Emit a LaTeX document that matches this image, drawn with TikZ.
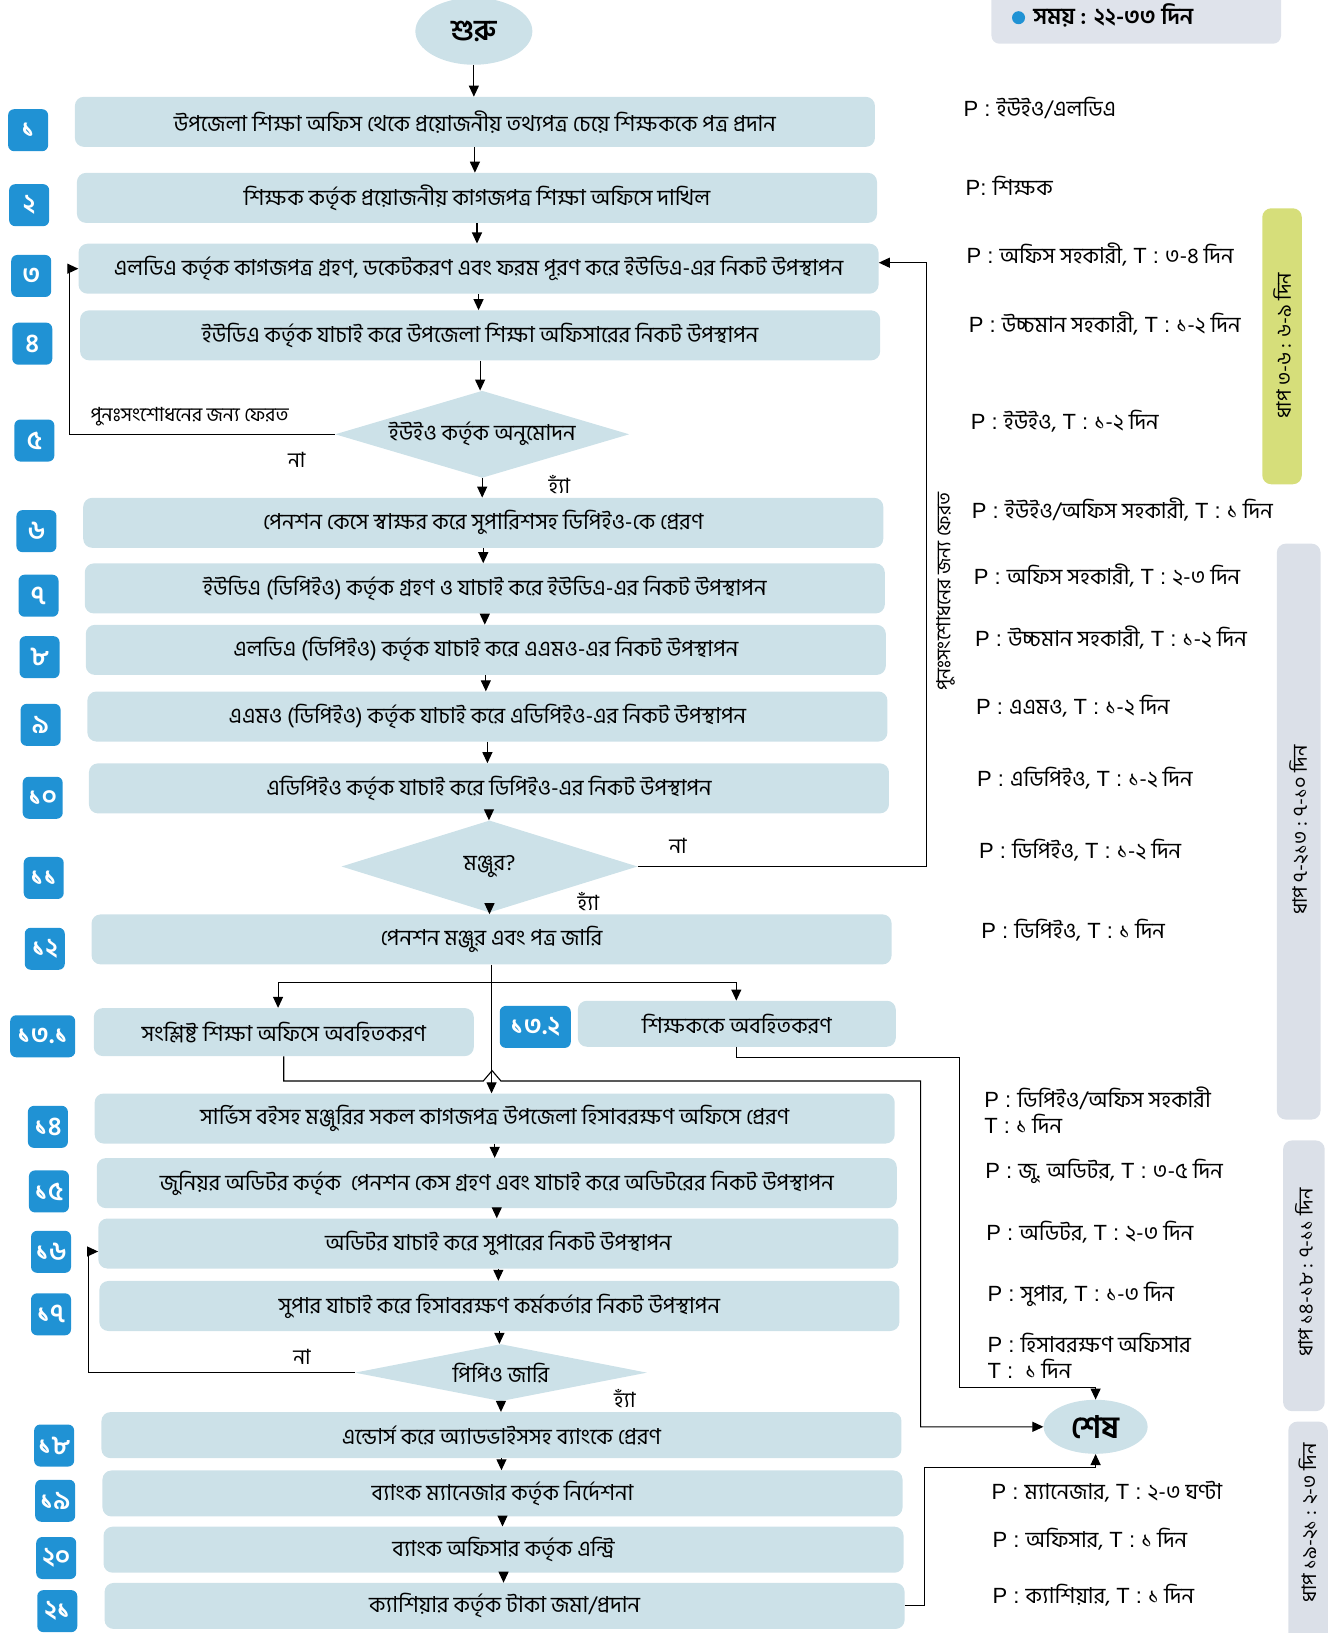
\documentclass[tikz,border=0pt]{standalone}
\usepackage{fontspec}
\setmainfont{Liberation Sans}
\newfontfamily\bn[Script=Bengali]{Hind Siliguri}
\newcommand\bng[1]{{\bn #1}}
\usetikzlibrary{shapes.geometric,arrows.meta,calc}
\definecolor{boxc}{RGB}{204,225,232}
\definecolor{badgec}{RGB}{32,146,212}
\definecolor{sideA}{RGB}{214,222,122}
\definecolor{sideB}{RGB}{219,224,232}
\definecolor{timec}{RGB}{223,227,235}
\begin{document}
\begin{tikzpicture}[x=1.0414pt,y=-1.0414pt,
  arr/.style={-{Triangle[length=11pt,width=10pt]}, line width=1.1pt},
  ln/.style={line width=1.1pt},
  stepbox/.style={rectangle,rounded corners=9pt,fill=boxc,minimum width=800pt,minimum height=50pt,inner sep=0pt,font=\bn\fontsize{22}{25}\selectfont},
  badge/.style={rectangle,rounded corners=6pt,fill=badgec,text=white,minimum width=40pt,minimum height=42pt,inner sep=0pt,font=\bn\bfseries\fontsize{26}{28}\selectfont},
  dia/.style={diamond,fill=boxc,inner sep=0pt,font=\bn\fontsize{22}{25}\selectfont},
  oval/.style={ellipse,fill=boxc,inner sep=0pt,font=\bn\bfseries\fontsize{29}{31}\selectfont},
  plab/.style={anchor=west,inner sep=0pt,font=\fontsize{22}{26}\selectfont,align=left},
  small/.style={font=\bn\fontsize{19.5}{22}\selectfont,inner sep=0pt},
  yn/.style={font=\bn\fontsize{21}{23}\selectfont,inner sep=0pt},
  sidetext/.style={rotate=90,font=\bn\fontsize{20}{22}\selectfont,inner sep=0pt}
]
\useasboundingbox (0,0) rectangle (1279,1568);

% time box
\fill[timec,rounded corners=8pt] (952,-10) rectangle (1230,42);
\fill[badgec] (978,17) circle (6.5pt);
\node[anchor=west,inner sep=0pt,font=\bn\bfseries\fontsize{23}{25}\selectfont] (time) at (992,15) {সময় : ২২-৩৩ দিন};

% side bars
\fill[sideA,rounded corners=9pt] (1212,200) rectangle (1250,465);
\node[sidetext] (s1) at (1231,332) {ধাপ ৩-৬ : ৬-৯ দিন};
\fill[sideB,rounded corners=9pt] (1226,522) rectangle (1268,1075);
\node[sidetext] (s2) at (1247,797) {ধাপ ৭-২১৩ : ৭-১০ দিন};
\fill[sideB,rounded corners=9pt] (1232,1095) rectangle (1272,1355);
\node[sidetext] (s3) at (1252,1222) {ধাপ ১৪-১৮ : ৭-১১ দিন};
\fill[sideB,rounded corners=9pt] (1237,1365) rectangle (1275,1600);
\node[sidetext] (s4) at (1256,1462) {ধাপ ১৯-২১ : ২-৩ দিন};

% start / end
\node[oval,minimum width=117pt,minimum height=67pt] (start) at (455,30) {শুরু};
\node[oval,minimum width=104pt,minimum height=54pt,font=\bn\bfseries\fontsize{31}{33}\selectfont] (end) at (1052,1370) {শেষ};

% steps
\node[stepbox] (b1) at (456,117) {উপজেলা শিক্ষা অফিস থেকে প্রয়োজনীয় তথ্যপত্র চেয়ে শিক্ষককে পত্র প্রদান};
\node[stepbox] (b2) at (458,190) {শিক্ষক কর্তৃক প্রয়োজনীয় কাগজপত্র শিক্ষা অফিসে দাখিল};
\node[stepbox] (b3) at (459.5,258) {এলডিএ কর্তৃক কাগজপত্র গ্রহণ, ডকেটকরণ এবং ফরম পূরণ করে ইউডিএ-এর নিকট উপস্থাপন};
\node[stepbox] (b4) at (461,322) {ইউডিএ কর্তৃক যাচাই করে উপজেলা শিক্ষা অফিসারের নিকট উপস্থাপন};
\node[dia,aspect=3.4,minimum width=294pt,minimum height=87pt] (d5) at (463,417) {ইউইও কর্তৃক অনুমোদন};
\node[stepbox] (b6) at (464,502) {পেনশন কেসে স্বাক্ষর করে সুপারিশসহ ডিপিইও-কে প্রেরণ};
\node[stepbox] (b7) at (465.5,565) {ইউডিএ (ডিপিইও) কর্তৃক গ্রহণ ও যাচাই করে ইউডিএ-এর নিকট উপস্থাপন};
\node[stepbox] (b8) at (466.5,624) {এলডিএ (ডিপিইও) কর্তৃক যাচাই করে এএমও-এর নিকট উপস্থাপন};
\node[stepbox] (b9) at (468,688) {এএমও (ডিপিইও) কর্তৃক যাচাই করে এডিপিইও-এর নিকট উপস্থাপন};
\node[stepbox] (b10) at (469.5,757) {এডিপিইও কর্তৃক যাচাই করে ডিপিইও-এর নিকট উপস্থাপন};
\node[dia,aspect=3.2,minimum width=296pt,minimum height=92pt] (d11) at (470,832) {মঞ্জুর?};
\node[stepbox] (b12) at (472,902) {পেনশন মঞ্জুর এবং পত্র জারি};
\node[stepbox,minimum width=380pt,minimum height=48pt] (b131) at (272.5,991) {সংশ্লিষ্ট শিক্ষা অফিসে অবহিতকরণ};
\node[stepbox,minimum width=318pt,minimum height=46pt] (b132) at (707.5,983) {শিক্ষককে অবহিতকরণ};
\node[stepbox] (b14) at (475,1074) {সার্ভিস বইসহ মঞ্জুরির সকল কাগজপত্র উপজেলা হিসাবরক্ষণ অফিসে প্রেরণ};
\node[stepbox] (b15) at (477,1136) {জুনিয়র অডিটর কর্তৃক\ \ পেনশন কেস গ্রহণ এবং যাচাই করে অডিটরের নিকট উপস্থাপন};
\node[stepbox] (b16) at (478.5,1194) {অডিটর যাচাই করে সুপারের নিকট উপস্থাপন};
\node[stepbox] (b17) at (479.5,1254) {সুপার যাচাই করে হিসাবরক্ষণ কর্মকর্তার নিকট উপস্থাপন};
\node[dia,aspect=5.1,minimum width=292pt,minimum height=57pt] (dp) at (481,1318) {পিপিও জারি};
\node[stepbox,minimum height=46pt] (b18) at (481.5,1378) {এন্ডোর্স করে অ্যাডভাইসসহ ব্যাংকে প্রেরণ};
\node[stepbox,minimum height=46pt] (b19) at (482.5,1434) {ব্যাংক ম্যানেজার কর্তৃক নির্দেশনা};
\node[stepbox,minimum height=46pt] (b20) at (483.5,1488) {ব্যাংক অফিসার কর্তৃক এন্ট্রি};
\node[stepbox,minimum height=46pt] (b21) at (484.5,1542) {ক্যাশিয়ার কর্তৃক টাকা জমা/প্রদান};

% badges
\node[badge] (n1) at (27,125) {১};
\node[badge] (n2) at (28,197) {২};
\node[badge] (n3) at (30,265) {৩};
\node[badge] (n4) at (31,330) {৪};
\node[badge] (n5) at (33,423) {৫};
\node[badge] (n6) at (35,510) {৬};
\node[badge] (n7) at (37,572) {৭};
\node[badge] (n8) at (38,631) {৮};
\node[badge] (n9) at (39,696) {৯};
\node[badge] (n10) at (41,766) {১০};
\node[badge] (n11) at (42,843) {১১};
\node[badge] (n12) at (43,911) {১২};
\node[badge,minimum width=65pt] (n131) at (41,995) {১৩.১};
\node[badge,minimum width=71pt] (n132) at (514,986) {১৩.২};
\node[badge] (n14) at (46,1082) {১৪};
\node[badge] (n15) at (47,1144) {১৫};
\node[badge] (n16) at (49,1202) {১৬};
\node[badge] (n17) at (49,1262) {১৭};
\node[badge] (n18) at (52,1388) {১৮};
\node[badge] (n19) at (53,1441) {১৯};
\node[badge] (n20) at (54,1496) {২০};
\node[badge] (n21) at (55,1547) {২১};

% main arrows
\foreach \a/\b in {start/b1,b1/b2,b2/b3,b3/b4,b4/d5,d5/b6,b6/b7,b7/b8,b8/b9,b9/b10,b10/d11,d11/b12,b12/b14,b14/b15,b15/b16,b16/b17,b17/dp,dp/b18,b18/b19,b19/b20,b20/b21}
  \draw[arr] (\a.south) -- (\a.south |- \b.north);

% loop back from d5 to b3
\coordinate (l5) at (67,417);
\draw[arr] (d5.west) -- (l5) |- (b3.west);
\node[small] (t5) at (182,400) {পুনঃসংশোধনের জন্য ফেরত};
\node[yn] (no5) at (285,442) {না};
\node[yn] (yes5) at (537,465) {হ্যাঁ};

% loop back from d11 to b3
\coordinate (r11) at (890,832);
\draw[arr] (d11.east) -- (r11) |- ([yshift=6pt]b3.east);
\node[yn] (no11) at (651,812) {না};
\node[yn] (yes11) at (565,866) {হ্যাঁ};
\node[small,rotate=90] (t11) at (908,568) {পুনঃসংশোধনের জন্য ফেরত};

% branch to 13.1 and 13.2
\coordinate (bl) at (267,943);
\coordinate (brr) at (707,943);
\draw[ln] (bl) -- (brr);
\draw[arr] (bl) -- (bl |- b131.north);
\draw[arr] (brr) -- (brr |- b132.north);

% 13.1 -> end (hop over the main line)
\coordinate (h1) at (272.5,1038);
\coordinate (h2) at (884,1038);
\draw[arr] (b131.south) -- (h1) -- (464,1038) -- (472.5,1028) -- (481,1038) -- (h2) |- (end.west);

% 13.2 -> end
\coordinate (k1) at (921,1015);
\coordinate (k2) at (921,1332);
\draw[arr] (b132.south) |- (k1) -- (k2) -| (end.north);

% 21 -> end
\coordinate (m1) at (888,1409);
\draw[arr] (b21.east) -| (m1) -| (end.south);

% ppo loop
\coordinate (lp) at (85,1318);
\draw[arr] (dp.west) -- (lp) |- ([yshift=-8pt]b16.west);
\node[yn] (nop) at (290,1303) {না};
\node[yn] (yesp) at (600,1343) {হ্যাঁ};

% right labels
\node[plab] (p1) at (925,104) {P : \bng{ইউইও/এলডিএ}};
\node[plab] (p2) at (927,178) {P: \bng{শিক্ষক}};
\node[plab] (p3) at (928,244) {P : \bng{অফিস সহকারী,} T : \bng{৩-৪ দিন}};
\node[plab] (p4) at (930,311) {P : \bng{উচ্চমান সহকারী,} T : \bng{১-২ দিন}};
\node[plab] (p5) at (932,404) {P : \bng{ইউইও,} T : \bng{১-২ দিন}};
\node[plab] (p6) at (933,489) {P : \bng{ইউইও/অফিস সহকারী,} T : \bng{১ দিন}};
\node[plab] (p7) at (935,553) {P : \bng{অফিস সহকারী,} T : \bng{২-৩ দিন}};
\node[plab] (p8) at (936,612) {P : \bng{উচ্চমান সহকারী,} T : \bng{১-২ দিন}};
\node[plab] (p9) at (937,678) {P : \bng{এএমও,} T : \bng{১-২ দিন}};
\node[plab] (p10) at (938,747) {P : \bng{এডিপিইও,} T : \bng{১-২ দিন}};
\node[plab] (p11) at (940,816) {P : \bng{ডিপিইও,} T : \bng{১-২ দিন}};
\node[plab] (p12) at (942,893) {P : \bng{ডিপিইও,} T : \bng{১ দিন}};
\node[plab] (p13) at (945,1066) {P : \bng{ডিপিইও/অফিস সহকারী}\\T : \bng{১ দিন}};
\node[plab] (p14) at (946,1125) {P : \bng{জু. অডিটর,} T : \bng{৩-৫ দিন}};
\node[plab] (p15) at (947,1183) {P : \bng{অডিটর,} T : \bng{২-৩ দিন}};
\node[plab] (p16) at (948,1243) {P : \bng{সুপার,} T : \bng{১-৩ দিন}};
\node[plab] (p17) at (948,1302) {P : \bng{হিসাবরক্ষণ অফিসার}\\T :\ \ \bng{১ দিন}};
\node[plab] (p18) at (952,1432) {P : \bng{ম্যানেজার,} T : \bng{২-৩ ঘণ্টা}};
\node[plab] (p19) at (953,1478) {P : \bng{অফিসার,} T : \bng{১ দিন}};
\node[plab] (p20) at (953,1532) {P : \bng{ক্যাশিয়ার,} T : \bng{১ দিন}};
\end{tikzpicture}
\end{document}
